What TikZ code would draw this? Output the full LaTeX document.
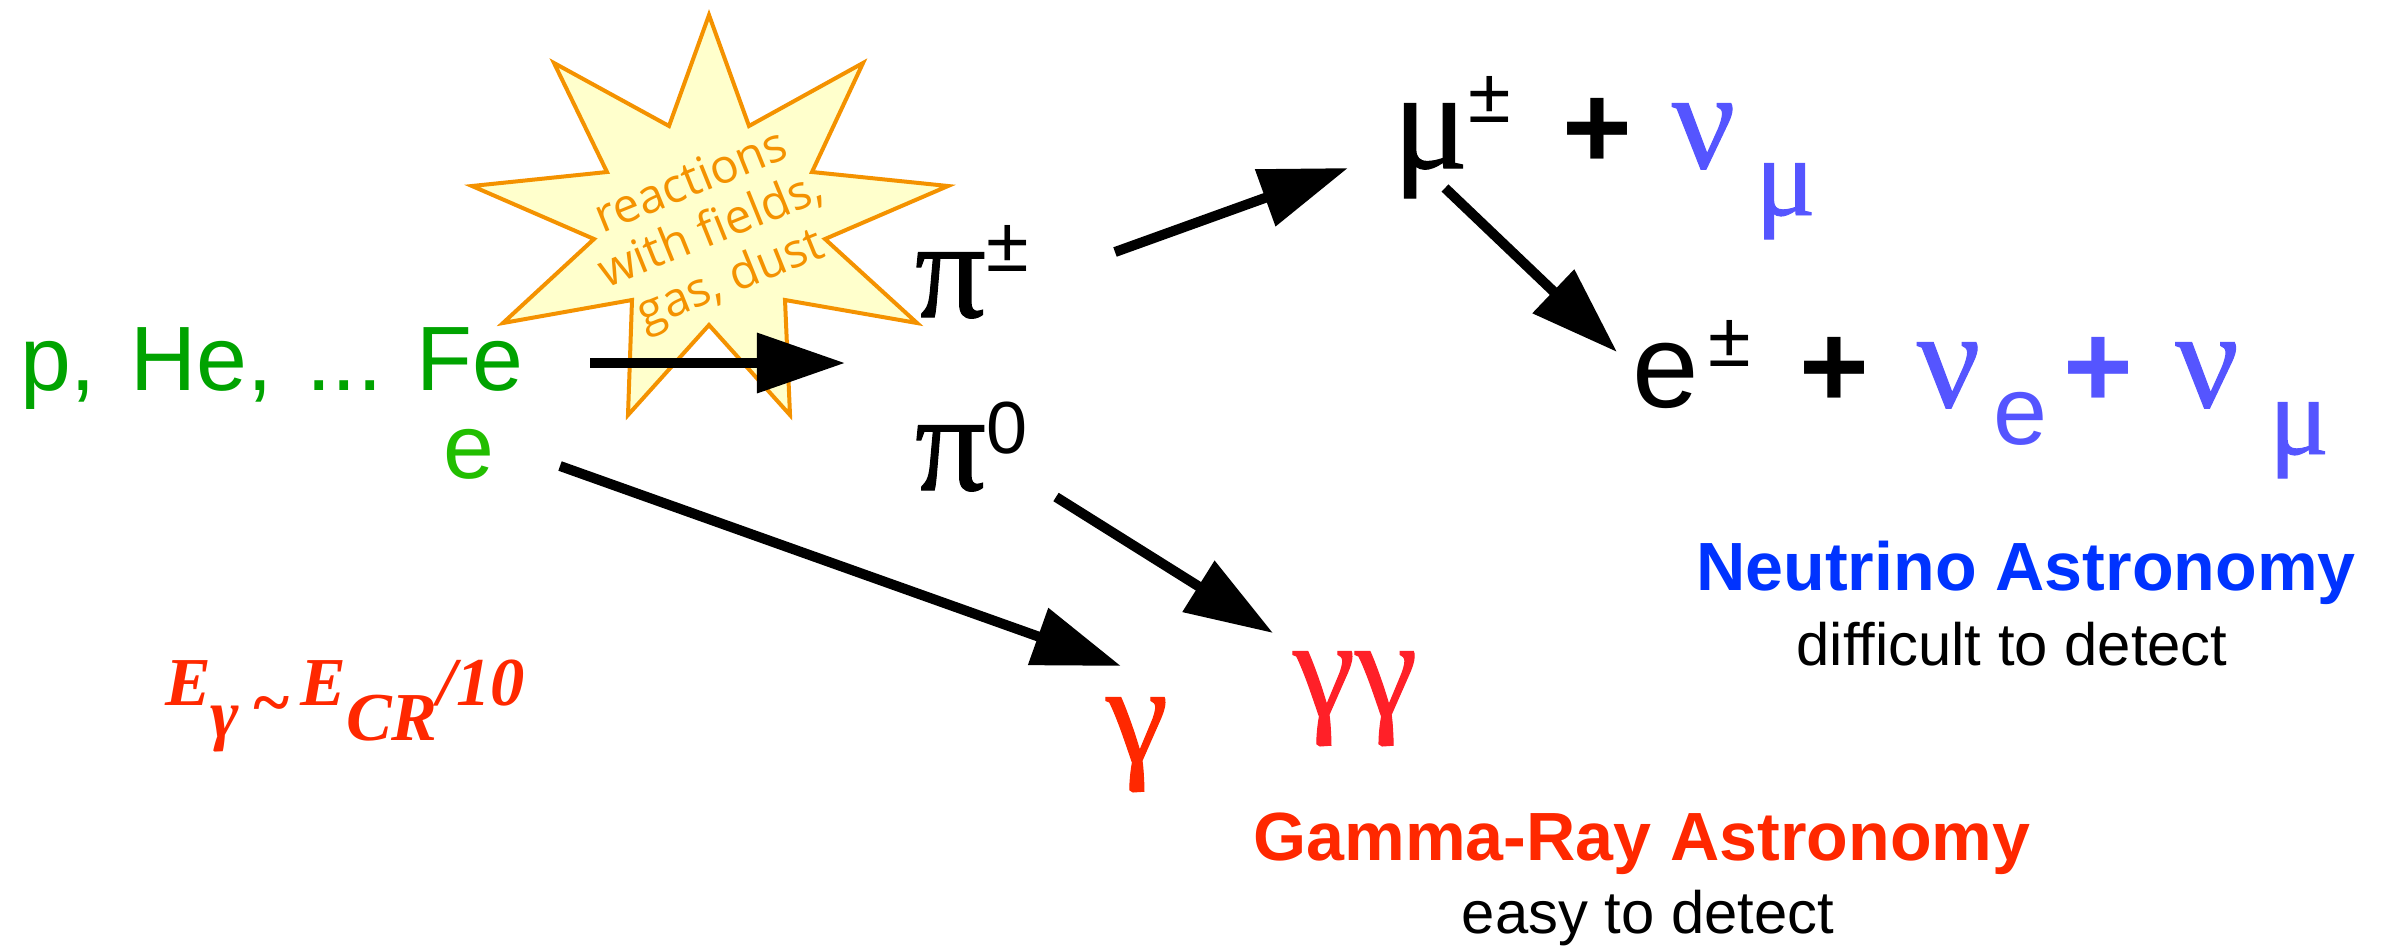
\documentclass[tikz,border=0pt]{standalone}
\usepackage{fontspec}
\setmainfont{Liberation Sans}
\newfontfamily\greekfont[FakeBold=0.8]{Liberation Serif}
\newfontfamily\ratiofont{Liberation Serif}
\newfontfamily\burstfont{Open Sans}
\usetikzlibrary{arrows.meta}

\definecolor{crgreen}{RGB}{0,163,0}
\definecolor{egreen}{RGB}{34,190,0}
\definecolor{burstorange}{RGB}{244,146,0}
\definecolor{burstfill}{RGB}{255,255,204}
\definecolor{nublue}{RGB}{85,85,255}
\definecolor{nutitle}{RGB}{0,51,255}
\definecolor{gammared}{RGB}{255,40,0}
\definecolor{ggred}{RGB}{255,32,40}

\newcommand{\grk}[1]{{\greekfont\fontsize{40pt}{40pt}\selectfont #1}}
\newcommand{\grksub}[1]{\raisebox{-0.47cm}{\greekfont\fontsize{32pt}{32pt}\selectfont #1}}
\newcommand{\esub}{\raisebox{-0.37cm}{\fontsize{27.6pt}{27.6pt}\selectfont e}}
\newcommand{\pmsup}[1][0.45cm]{\raisebox{#1}{\fontsize{22pt}{22pt}\selectfont ±}}
\newcommand{\bigplus}{{\fontsize{34pt}{34pt}\selectfont\bfseries +}}

\begin{document}
\begin{tikzpicture}[x=0.01cm, y=-0.01cm,
    every node/.style={inner sep=0pt, outer sep=0pt},
    arr/.style={line width=0.1cm, -{Triangle[length=0.88cm, width=0.58cm]}},
    particle/.style={anchor=base west, font=\fontsize{34pt}{34pt}\selectfont},
    astrotitle/.style={anchor=base, font=\fontsize{19.4pt}{19.4pt}\selectfont\bfseries},
    astronote/.style={anchor=base, font=\fontsize{17pt}{17pt}\selectfont}
  ]
  \useasboundingbox (0,0) rectangle (2386,945);

  % starburst
  \draw[burstorange, fill=burstfill, line width=0.04cm, line join=miter]
    (709,15) -- (749,126) -- (863,63) -- (812,172) -- (948,186) -- (825,239)
    -- (917,323) -- (785,300) -- (790,415) -- (709,325) -- (628,415) -- (632,300)
    -- (503,323) -- (594,239) -- (472,186) -- (607,172) -- (554,63) -- (669,126) -- cycle;
  \node[rotate=22, align=center, text=burstorange, font=\burstfont\fontsize{13.5pt}{15pt}\selectfont] (bursttext) at (712,233) {reactions\\with fields,\\gas, dust};

  % cosmic rays
  \node[anchor=base west, text=crgreen, font=\fontsize{26pt}{26pt}\selectfont] (crays) at (20,390) {p,\hspace{0.34cm}He,\hspace{0.34cm}...\hspace{0.34cm}Fe};
  \node[anchor=base west, text=egreen, font=\fontsize{26pt}{26pt}\selectfont] (elec) at (443,478) {e};

  % pions and decay products
  \node[anchor=base west] (pipm) at (915,317) {\grk{π}\pmsup};
  \node[anchor=base west] (pizero) at (915,490) {\grk{π}\raisebox{0.36cm}{\fontsize{21pt}{21pt}\selectfont 0}};
  \node[particle] (mupm) at (1393,168) {\grk{μ}\pmsup\hspace{0.52cm}\bigplus\hspace{0.39cm}\textcolor{nublue}{\grk{ν}\hspace{0.2cm}\grksub{μ}}};
  \node[particle] (epm) at (1632,407) {e\hspace{0.1cm}\pmsup[0.40cm]\hspace{0.48cm}\bigplus\hspace{0.48cm}\textcolor{nublue}{\grk{ν}\hspace{0.13cm}\esub\hspace{0.16cm}\bigplus\hspace{0.42cm}\grk{ν}\hspace{0.3cm}\grksub{μ}}};
  \node[anchor=base west, text=gammared] (gam) at (1106,762) {\grk{γ}};
  \node[anchor=base west, text=ggred] (gamgam) at (1293,716) {\grk{γγ}};

  % labels
  \node[astrotitle, text=nutitle] (nuastro) at (2026,590) {Neutrino Astronomy};
  \node[astronote] (nudet) at (2012,665) {difficult to detect};
  \node[astrotitle, text=gammared] (gamastro) at (1642,860) {Gamma-Ray Astronomy};
  \node[astronote] (gamdet) at (1648,933) {easy to detect};
  \node[anchor=base west, text=gammared, font=\ratiofont\bfseries\itshape\fontsize{19.5pt}{19.5pt}\selectfont] (eratio) at (165,705)
    {E\raisebox{-0.32cm}{γ}\hspace{0.12cm}\raisebox{-0.2cm}{\textasciitilde}\hspace{0.1cm}E\raisebox{-0.35cm}{CR}/10};

  % arrow ends
  \coordinate (crays-out) at (590,363);
  \coordinate (pion-in) at (845,363);
  \coordinate (pipm-out) at (1115,252);
  \coordinate (mupm-in) at (1348,168);
  \coordinate (mupm-out) at (1445,188);
  \coordinate (epm-in) at (1617,352);
  \coordinate (elec-out) at (560,466);
  \coordinate (gam-in) at (1121,666);
  \coordinate (pizero-out) at (1056,497);
  \coordinate (gamgam-in) at (1273,633);

  \draw[arr] (crays-out) -- (pion-in);
  \draw[arr] (pipm-out) -- (mupm-in);
  \draw[arr] (mupm-out) -- (epm-in);
  \draw[arr] (elec-out) -- (gam-in);
  \draw[arr] (pizero-out) -- (gamgam-in);
\end{tikzpicture}
\end{document}
